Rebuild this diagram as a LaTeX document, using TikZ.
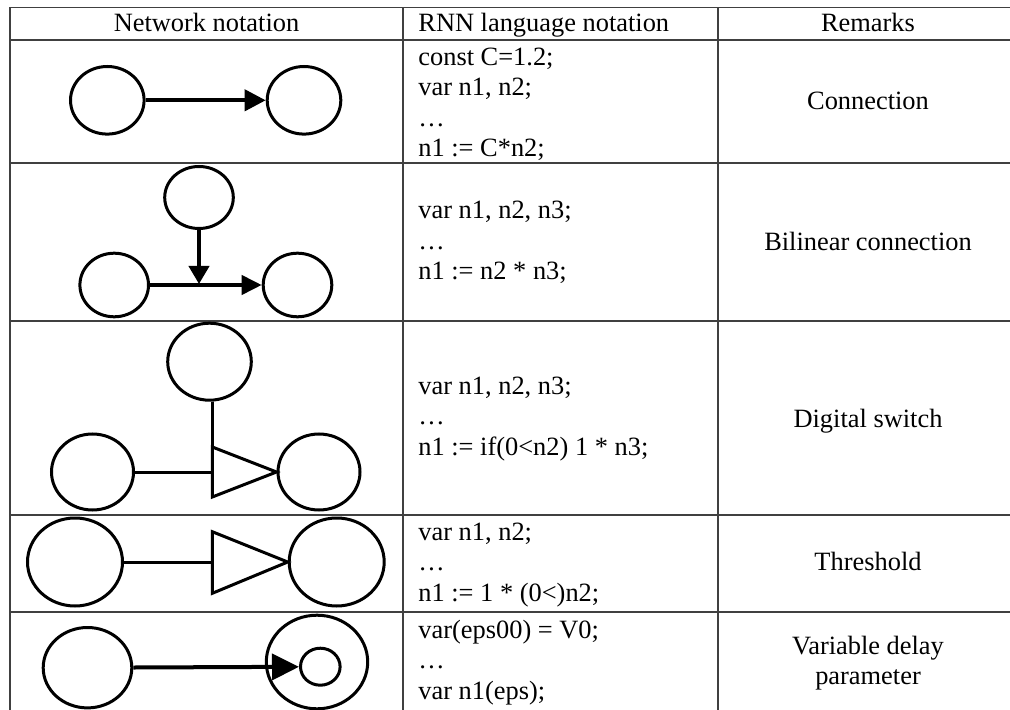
\documentclass[tikz,border=0pt]{standalone}
\usepackage{fontspec}
\setmainfont{Liberation Serif}
\usetikzlibrary{shapes.geometric,arrows.meta}

\tikzset{
	cell/.style={draw=black!75, line width=0.7pt},
	neuron/.style 2 args={ellipse, draw, line width=1.5pt, inner sep=0pt, minimum width=#1, minimum height=#2},
	link/.style={line width=2pt},
	conn/.style 2 args={link, -{Triangle[length=#1, width=#2]}},
	code/.style={anchor=base west, align=left, inner sep=0pt, font=\fontsize{13.2}{15.25}\selectfont},
	remark/.style={anchor=base, align=center, inner sep=0pt, font=\fontsize{13.2}{15}\selectfont},
}

\begin{document}
\begin{tikzpicture}[x=0.5pt, y=-0.5pt]
		\useasboundingbox (0, 0) rectangle (1010, 710);

		% table
		\draw[cell] (10, 7.5) rectangle (1018, 718);
		\draw[cell] (403, 7.5) -- (403, 718);
		\draw[cell] (718, 7.5) -- (718, 718);
		\foreach \y in {40, 163, 321, 515, 612}
			\draw[cell] (10, \y) -- (1018, \y);

		\node[remark] (h1) at (206.5, 32) {Network notation};
		\node[code] (h2) at (418, 32) {RNN language notation};
		\node[remark] (h3) at (868, 32) {Remarks};

		% connection
		\node[neuron={36.8pt}{33.8pt}] (a1) at (107.3, 100.3) {};
		\node[neuron={36.8pt}{33.8pt}] (b1) at (304, 100.3) {};
		\draw[conn={10.5pt}{10.5pt}] (a1) -- (b1);
		\node[code] (p1) at (418, 157) {const C=1.2;\\var n1, n2;\\\ldots\\n1 := C*n2;};
		\node[remark] (r1) at (868, 110) {Connection};

		% bilinear connection
		\node[neuron={34.3pt}{31pt}] (c2) at (199, 197.5) {};
		\node[neuron={34.3pt}{31.8pt}] (a2) at (114.2, 285) {};
		\node[neuron={34.3pt}{31.8pt}] (b2) at (297.5, 285) {};
		\coordinate (m2) at (199, 284);
		\draw[conn={10pt}{9.5pt}] (a2) -- (b2);
		\draw[conn={9pt}{10pt}] (c2) -- (m2);
		\node[code] (p2) at (418, 280) {var n1, n2, n3;\\\ldots\\n1 := n2 * n3;};
		\node[remark] (r2) at (868, 250.7) {Bilinear connection};

		% digital switch
		\node[neuron={41.8pt}{38.5pt}] (c3) at (209.5, 361.7) {};
		\node[neuron={41pt}{38pt}] (a3) at (92.5, 472) {};
		\node[neuron={41pt}{38pt}] (b3) at (319, 472) {};
		\coordinate (t3) at (212.3, 472);
		\draw[link, line width=1.5pt, line join=miter] (212.3, 447) -- (b3.west) -- (212.3, 497) -- cycle;
		\draw[link, line width=1.5pt] (a3) -- (t3);
		\draw[link, line width=1.5pt] (t3 |- c3.south) -- (t3);
		\node[code] (p3) at (418, 455) {var n1, n2, n3;\\\ldots\\n1 := if(0<n2) 1 * n3;};
		\node[remark] (r3) at (868, 427.3) {Digital switch};

		% threshold
		\node[neuron={47.5pt}{44pt}] (a4) at (75, 562) {};
		\node[neuron={47.5pt}{44pt}] (b4) at (336.7, 562) {};
		\coordinate (t4) at (212.3, 562);
		\draw[link, line width=1.5pt] (212.3, 531.7) -- (b4.west) -- (212.3, 593.3) -- cycle;
		\draw[link, line width=1.5pt] (a4) -- (t4);
		\node[code] (p4) at (418, 601) {var n1, n2;\\\ldots\\n1 := 1 * (0<)n2;};
		\node[remark] (r4) at (868, 570.7) {Threshold};

		% variable delay parameter
		\node[neuron={44.3pt}{40.2pt}] (a5) at (87.5, 667.7) {};
		\node[neuron={50.7pt}{46.8pt}] (b5) at (317, 662) {};
		\node[neuron={19.8pt}{18.5pt}] (c5) at (320.3, 666.7) {};
		\draw[conn={13.5pt}{13pt}] (a5) -- (c5);
		\node[code] (p5) at (418, 699) {var(eps00) = V0;\\\ldots\\var n1(eps);};
		\node[remark] (r5) at (868, 684) {Variable delay\\parameter};
	\end{tikzpicture}
\end{document}
